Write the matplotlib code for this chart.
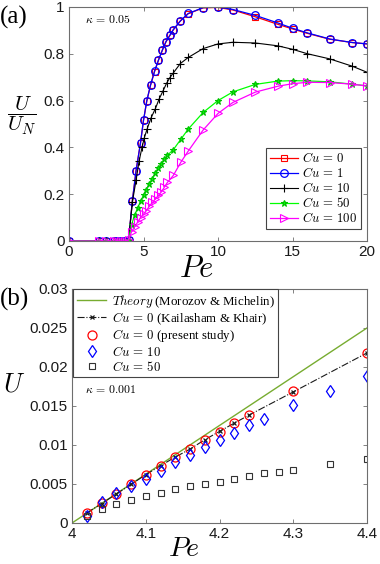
import numpy as np
import matplotlib
matplotlib.use("Agg")
import matplotlib.pyplot as plt

plt.rcParams["mathtext.fontset"] = "cm"
plt.rcParams["font.family"] = ["Liberation Sans", "DejaVu Sans"]

# ---------------- panel (a) data: kappa = 0.05 ----------------
pe_low = [0, 2, 2.5, 3.0, 3.25, 3.5, 3.75, 4.0]
u_low = [0, 0, 0, 0, 0, 0, 0, 0.005]

pe_cu0 = pe_low + [4.25, 4.5, 4.8, 5.0, 5.22, 5.47, 5.74, 6.0, 6.26, 6.5, 6.77, 7.0, 7.47,
                   8.0, 9.0, 10, 11, 12.5, 14, 15, 16, 17.5, 19, 20]
u_cu0 = u_low + [0.17, 0.30, 0.42, 0.515, 0.598, 0.665, 0.724, 0.772, 0.814, 0.85, 0.878,
                 0.902, 0.94, 0.971, 0.996, 0.998, 0.987, 0.958, 0.926, 0.906, 0.887,
                 0.862, 0.848, 0.842]
u_cu1 = u_low + [0.171, 0.30, 0.42, 0.516, 0.599, 0.666, 0.725, 0.772, 0.815, 0.851, 0.879,
                 0.903, 0.94, 0.972, 0.997, 1.0, 0.989, 0.964, 0.932, 0.909, 0.889,
                 0.863, 0.848, 0.842]

pe_cu10 = pe_low + [4.25, 4.5, 4.7, 4.9, 5.05, 5.25, 5.5, 5.8, 6.05, 6.3, 6.55, 6.77, 7.0,
                    7.47, 8.0, 9.0, 10, 11, 12.5, 14, 15, 16, 17.5, 19, 20]
u_cu10 = u_low + [0.165, 0.26, 0.34, 0.40, 0.44, 0.48, 0.525, 0.566, 0.607, 0.64, 0.674,
                  0.698, 0.718, 0.758, 0.784, 0.822, 0.842, 0.849, 0.846, 0.834, 0.819,
                  0.80, 0.778, 0.747, 0.721]

pe_mid = pe_low + [4.2, 4.4, 4.6, 4.8, 5.0, 5.2, 5.4, 5.6, 5.8, 6.0, 6.2, 6.4, 6.6, 7.0,
                   7.5, 8.0, 9.0, 10, 11, 12.5, 14, 15, 16, 17.5, 19, 20]
u_cu50 = u_low + [0.07, 0.11, 0.14, 0.17, 0.195, 0.22, 0.245, 0.267, 0.29, 0.31, 0.33,
                  0.35, 0.366, 0.39, 0.434, 0.478, 0.549, 0.60, 0.637, 0.669, 0.683,
                  0.685, 0.684, 0.68, 0.67, 0.663]
u_cu100 = u_low + [0.04, 0.06, 0.08, 0.10, 0.115, 0.13, 0.15, 0.165, 0.18, 0.195, 0.21,
                   0.23, 0.25, 0.28, 0.336, 0.384, 0.474, 0.545, 0.592, 0.636, 0.661,
                   0.672, 0.678, 0.677, 0.67, 0.662]

# ---------------- panel (b) data: kappa = 0.001 ----------------
pe_theory = [4.0, 4.4]
u_theory = [0.0, 0.025]

pe_kk = [4.02, 4.04, 4.06, 4.08, 4.10, 4.12, 4.14, 4.16, 4.18, 4.20, 4.22, 4.24, 4.30, 4.40]
u_kk = [0.00128, 0.00248, 0.00371, 0.00495, 0.00619, 0.00734, 0.00845, 0.00947,
        0.01067, 0.01174, 0.0128, 0.01383, 0.0168, 0.0218]
u_present = [0.0013, 0.0025, 0.0037, 0.0050, 0.0062, 0.0073, 0.0084, 0.0095,
             0.0107, 0.0117, 0.0128, 0.0139, 0.0169, 0.0218]

pe_b10 = [4.02, 4.04, 4.06, 4.08, 4.10, 4.12, 4.14, 4.16, 4.18, 4.20, 4.22, 4.24, 4.26,
          4.30, 4.35, 4.40]
u_b10 = [0.00085, 0.0027, 0.0038, 0.0047, 0.0057, 0.0067, 0.0078, 0.0087, 0.0098,
         0.0107, 0.0115, 0.0125, 0.0133, 0.0151, 0.0169, 0.0189]
pe_b50 = [4.02, 4.04, 4.06, 4.08, 4.10, 4.12, 4.14, 4.16, 4.18, 4.20, 4.22, 4.24, 4.26,
          4.28, 4.30, 4.35, 4.40]
u_b50 = [0.00085, 0.0018, 0.0024, 0.0030, 0.0035, 0.0039, 0.0043, 0.0047, 0.0050,
         0.0053, 0.0056, 0.0060, 0.0064, 0.0066, 0.0068, 0.0076, 0.0082]

SPINE = "#6e6e6e"


def style_axes(ax):
    for s in ax.spines.values():
        s.set_color(SPINE)
        s.set_linewidth(0.8)
    ax.tick_params(direction="in", top=True, right=True, length=3, width=0.6,
                   colors=SPINE, labelcolor="#1a1a1a", labelsize=11, pad=3)


fig = plt.figure(figsize=(3.8, 5.64), dpi=100)
ax1 = fig.add_axes([0.1816, 0.5727, 0.7842, 0.415])
ax2 = fig.add_axes([0.1895, 0.0727, 0.7763, 0.415])

# ---------------- (a) ----------------
ax1.plot(pe_cu0, u_cu0, "-s", color="#ff0000", lw=0.9, ms=4.5, mfc="none", mew=0.8,
         label=r"$Cu\,=\,0$")
ax1.plot(pe_cu0, u_cu1, "-o", color="#0000ff", lw=0.9, ms=5.5, mfc="none", mew=0.9,
         label=r"$Cu\,=\,1$")
ax1.plot(pe_cu10, u_cu10, "-+", color="black", lw=0.8, ms=5.5, mew=0.8,
         label=r"$Cu\,=\,10$")
ax1.plot(pe_mid, u_cu50, "-*", color="#00ff00", lw=0.9, ms=5, mew=0.8,
         mec="#00c000", label=r"$Cu\,=\,50$")
ax1.plot(pe_mid, u_cu100, "->", color="#ff00ff", lw=0.9, ms=5.5, mfc="none", mew=0.8,
         label=r"$Cu\,=\,100$")
ax1.set_xlim(0, 20)
ax1.set_ylim(0, 1)
ax1.set_xticks([0, 5, 10, 15, 20])
ax1.set_yticks([0, 0.2, 0.4, 0.6, 0.8, 1.0])
ax1.set_yticklabels(["0", "0.2", "0.4", "0.6", "0.8", "1"])
style_axes(ax1)
leg1 = ax1.legend(loc="lower right", bbox_to_anchor=(0.98, 0.05), fontsize=9.2,
                  frameon=True, fancybox=False, edgecolor="#444444", framealpha=1,
                  handlelength=2.2, handletextpad=0.3, borderpad=0.3, labelspacing=0.08,
                  borderaxespad=0)
leg1.get_frame().set_linewidth(0.8)
ax1.text(0.055, 0.945, r"$\kappa\,=\,0.05$", transform=ax1.transAxes, fontsize=8.5,
         ha="left", va="center")
ax1.text(0.426, -0.154, r"$Pe$", transform=ax1.transAxes, fontsize=22, ha="center",
         va="baseline")
ax1.text(-0.158, 0.535, r"$\dfrac{U}{U_N}$", transform=ax1.transAxes, fontsize=15,
         ha="center", va="center")
fig.text(0.0, 0.99, "(a)", fontsize=18, family="Liberation Serif", ha="left", va="top")

# ---------------- (b) ----------------
ax2.plot(pe_theory, u_theory, "-", color="#77ac30", lw=1.0,
         label=r"$Theory$ (Morozov & Michelin)")
ax2.plot(pe_kk, u_kk, "-.x", color="#1a1a1a", lw=0.8, ms=3.5, mew=0.9,
         label=r"$Cu\,=\,0$ (Kailasham & Khair)")
ax2.plot(pe_kk, u_present, "o", color="#ff0000", ms=6.5, mfc="none", mew=0.9,
         label=r"$Cu\,=\,0$ (present study)")
ax2.plot(pe_b10, u_b10, "d", color="#0000ff", ms=6.5, mfc="none", mew=0.9,
         label=r"$Cu\,=\,10$")
ax2.plot(pe_b50, u_b50, "s", color="#333333", ms=4.5, mfc="none", mew=0.8,
         label=r"$Cu\,=\,50$")
ax2.set_xlim(4, 4.4)
ax2.set_ylim(0, 0.03)
ax2.set_xticks([4, 4.1, 4.2, 4.3, 4.4])
ax2.set_xticklabels(["4", "4.1", "4.2", "4.3", "4.4"])
ax2.set_yticks([0, 0.005, 0.01, 0.015, 0.02, 0.025, 0.03])
ax2.set_yticklabels(["0", "0.005", "0.01", "0.015", "0.02", "0.025", "0.03"])
style_axes(ax2)
leg2 = ax2.legend(loc="upper left", bbox_to_anchor=(0.005, 0.998),
                  prop={"family": "Liberation Serif", "size": 9.3},
                  frameon=True, fancybox=False, edgecolor="#444444", framealpha=1,
                  handlelength=2.3, handletextpad=0.4, borderpad=0.25, labelspacing=0.05,
                  borderaxespad=0)
leg2.get_frame().set_linewidth(0.8)
ax2.text(0.045, 0.57, r"$\kappa\,=\,0.001$", transform=ax2.transAxes, fontsize=8.5,
         ha="left", va="center")
ax2.text(0.38, -0.14, r"$Pe$", transform=ax2.transAxes, fontsize=20, ha="center",
         va="baseline")
ax2.text(-0.195, 0.59, r"$U$", transform=ax2.transAxes, fontsize=19, ha="center",
         va="center")
fig.text(0.0, 0.49, "(b)", fontsize=18, family="Liberation Serif", ha="left", va="top")

fig.savefig("out.png", dpi=100)
